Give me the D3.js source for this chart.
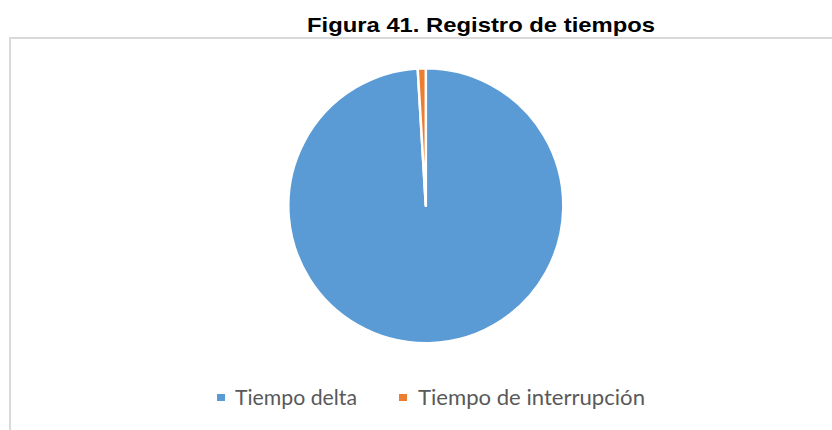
<!DOCTYPE html>
<html>
<head>
<meta charset="utf-8">
<script src="https://cdn.jsdelivr.net/npm/d3@7"></script>
<style>
  html, body { margin: 0; padding: 0; background: #fff; }
  svg { display: block; }
</style>
</head>
<body>
<svg id="chart" width="832" height="430"></svg>
<script>
// Time record: share of delta time vs. interruption time
const categories = ["Tiempo delta", "Tiempo de interrupción"];
const values = [99.06, 0.94];
const colors = ["#5b9bd5", "#ed7d31"];
const title = "Figura 41. Registro de tiempos";

const svg = d3.select("#chart");

// chart area frame (top and left edges visible)
svg.append("path")
  .attr("d", "M10,431 L10,38 L832,38")
  .attr("fill", "none")
  .attr("stroke", "#d9d9d9")
  .attr("stroke-width", 2);

// title
svg.append("text")
  .attr("x", 481).attr("y", 32)
  .attr("text-anchor", "middle")
  .attr("font-family", "'Liberation Sans', Arial, sans-serif")
  .attr("font-weight", "bold")
  .attr("font-size", 21)
  .attr("textLength", 348)
  .attr("lengthAdjust", "spacingAndGlyphs")
  .attr("fill", "#000")
  .text(title);

// pie
const cx = 425.8, cy = 205.7, r = 137.5;
const data = categories.map((c, i) => ({ name: c, value: values[i], color: colors[i] }));
const pie = d3.pie().value(d => d.value).sort(null);
const arc = d3.arc().innerRadius(0).outerRadius(r);

svg.append("g")
  .attr("transform", `translate(${cx},${cy})`)
  .selectAll("path")
  .data(pie(data))
  .join("path")
  .attr("d", arc)
  .attr("fill", d => d.data.color)
  .attr("stroke", "#fff")
  .attr("stroke-width", 2.5)
  .attr("stroke-linejoin", "round");

// legend
const legendFont = "Lato, 'Open Sans', sans-serif";
const legendItems = [
  { x: 217, tx: 235, len: 122 },
  { x: 399, tx: 418, len: 227 }
];
const lg = svg.append("g");
data.forEach((d, i) => {
  lg.append("rect")
    .attr("x", legendItems[i].x).attr("y", 394)
    .attr("width", 8).attr("height", 7)
    .attr("fill", d.color);
  lg.append("text")
    .attr("x", legendItems[i].tx).attr("y", 405)
    .attr("font-family", legendFont)
    .attr("font-size", 21.5)
    .attr("textLength", legendItems[i].len)
    .attr("lengthAdjust", "spacingAndGlyphs")
    .attr("fill", "#595959")
    .text(d.name);
});
</script>
</body>
</html>
